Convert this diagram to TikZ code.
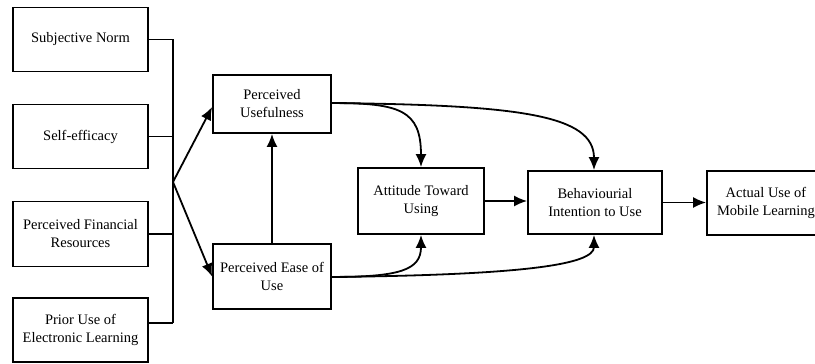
\documentclass[tikz,border=0pt]{standalone}
\usepackage{fontspec}
\setmainfont{Liberation Serif}
\usetikzlibrary{arrows.meta,calc}
\begin{document}
\begin{tikzpicture}[x=1pt,y=-1pt,
  box/.style={draw,line width=1.8pt,align=center,inner sep=0pt,
    font=\fontsize{14.5}{18}\selectfont},
  link/.style={line width=1.8pt},
  arr/.style={line width=1.8pt,-{Latex[length=13pt,width=11pt]}}]
\useasboundingbox (0,0) rectangle (815,364);
\clip (0,0) rectangle (815,364);
% left boxes
\node[box,minimum width=135pt,minimum height=64pt] (sn) at (80.5,39.5) {Subjective Norm};
\node[box,minimum width=135pt,minimum height=64pt] (se) at (80.5,136.5) {Self-efficacy};
\node[box,minimum width=135pt,minimum height=65pt] (pf) at (80.5,234) {Perceived Financial\\Resources};
\node[box,minimum width=135pt,minimum height=64pt] (pr) at (80.5,330) {Prior Use of\\Electronic Learning};
% middle
\node[box,minimum width=118pt,minimum height=58pt] (pu) at (272,104) {Perceived\\Usefulness};
\node[box,minimum width=118pt,minimum height=65pt] (pe) at (272,276.5) {Perceived Ease of\\Use};
\node[box,minimum width=126pt,minimum height=66pt] (at) at (421,201) {Attitude Toward\\Using};
\node[box,minimum width=134pt,minimum height=63pt] (bi) at (595,202.5) {Behaviourial\\Intention to Use};
\node[box,minimum width=118pt,minimum height=64pt] (au) at (766,203) {Actual Use of\\Mobile Learning};
% bus
\coordinate (b1) at (173,39.5);
\coordinate (b4) at (173,323);
\coordinate (j) at (173,182);
\draw[link] (sn.east) -- (b1) -- (b4);
\draw[link] (se.east) -- (se.east -| b1);
\draw[link] (pf.east) -- (pf.east -| b1);
\draw[link] ([yshift=7pt]pr.east) -- (b4);
\draw[arr] (j) -- ([yshift=-3pt]pu.west);
\draw[arr] (j) -- (pe.west);
\draw[arr] (pe.north) -- (pu.south);
% curves
\draw[arr] (331,103) .. controls (400,103) and (421,110) .. (at.north);
\draw[arr] (331,103) .. controls (520,105) and (594,115) .. ([xshift=-1pt]bi.north);
\draw[arr] (331,277) .. controls (400,277) and (421,270) .. (at.south);
\draw[arr] (331,277) .. controls (520,275) and (594,265) .. ([xshift=-1pt]bi.south);
\draw[arr] (at.east) -- (at.east -| bi.west);
\draw[arr] (bi.east) -- (bi.east -| au.west);
\end{tikzpicture}
\end{document}
